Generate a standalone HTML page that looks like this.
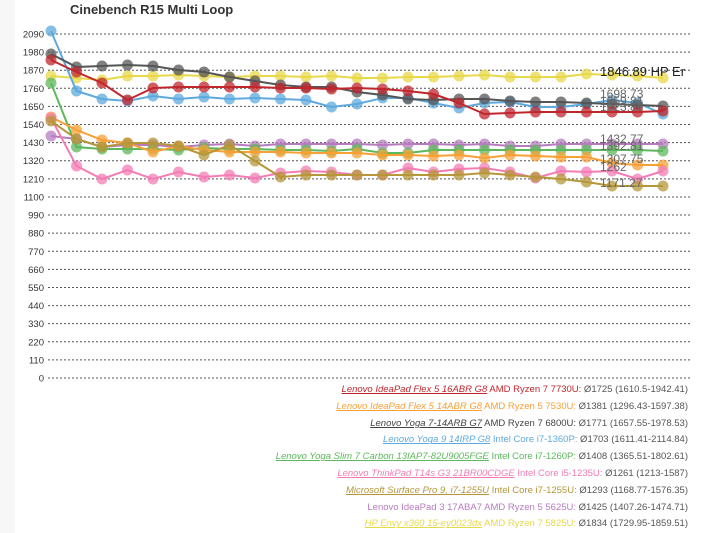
<!DOCTYPE html>
<html><head><meta charset="utf-8">
<style>
body{margin:0;background:#fff;width:704px;height:533px;overflow:hidden;font-family:"Liberation Sans",sans-serif;}
#lg{position:absolute;right:16px;top:382px;text-align:right;font-size:9.5px;line-height:16.8px;color:#555;white-space:nowrap;}
#lg u{font-style:italic}
</style></head><body>
<div style="position:absolute;left:0;top:0;width:15px;height:533px;background:#f7f7f7"></div>
<svg id="s" width="704" height="533" style="position:absolute;left:0;top:0"></svg>
<div id="lg"></div>
<script>
const s=document.getElementById('s');let h='';
h+='<text x="70" y="14" font-size="13" font-weight="bold" fill="#333">Cinebench R15 Multi Loop</text>';
for(let i=0;i<=19;i++){const v=i*110;const y=378-v*0.1646;
h+=`<line x1="48" x2="690" y1="${y}" y2="${y}" stroke="#555" stroke-dasharray="2,2" stroke-width="1"/>`;
h+=`<text x="44" y="${y+3.5}" font-size="9.5" text-anchor="end" fill="#333">${v}</text>`;}
const X=i=>51+i*25.5;
const S=[
['#e8d84a',[76,78,80,76,76,75,76,77,76,76,77,76,78,78,77,77,76,75,77,77,77,74,75,76,78]],
['#b77cc0',[136,139,147,145,145,147,145,144,146,144,144,144,144,145,144,144,145,144,146,146,144,144,144,144,144]],
['#5cb85c',[83,147,149,149,149,150,148,149,149,150,150,151,149,153,153,150,150,150,150,150,150,150,150,150,151]],
['#f7a035',[117,130,140,143,152,146,150,152,152,152,153,153,153,155,155,156,155,158,155,156,157,157,163,165,165]],
['#f37cb5',[118,166,179,170,179,172,177,175,178,173,171,172,175,175,168,172,169,168,172,178,171,172,171,179,171]],
['#b5973a',[121,139,147,143,143,146,155,145,161,177,175,175,175,175,175,175,175,173,175,177,179,182,186,186,186]],
['#5ea9dd',[31,91,99,101,96,99,97,99,98,99,100,107,104,98,98,103,108,103,102,107,107,104,100,103,114]],
['#555555',[54,67,66,65,66,70,72,77,81,85,87,87,92,95,99,100,99,99,101,102,102,103,104,105,106]],
['#c0272d',[60,72,83,100,88,87,87,87,87,88,88,89,88,89,91,94,103,114,113,112,112,112,112,112,111]]];
for(const [c,d] of S){h+=`<polyline fill="none" stroke="${c}" stroke-width="2" points="${d.map((y,i)=>X(i)+','+y).join(' ')}"/>`;
for(let i=0;i<d.length;i++)h+=`<circle cx="${X(i)}" cy="${d[i]}" r="5.5" fill="${c}" opacity="0.75"/>`;}
const L=[['1846.89 HP Er',76,'#222',13],['1698.73',98,'#666',12],['1659.81',105,'#666',12],['1623.86',111,'#666',12],['1432.77',143,'#666',12],['1392.81',150,'#666',12],['1307.75',163,'#666',12],['1262',171,'#666',12],['1171.27',187,'#666',12]];
h+='<clipPath id="c"><rect x="0" y="0" width="690" height="533"/></clipPath><g clip-path="url(#c)">';
for(const [t,y,c,f] of L)h+=`<text x="600" y="${y}" font-size="${f}" fill="${c}">${t}</text>`;
h+='</g>';
s.innerHTML=h;
const G=[['#c0272d','Lenovo IdeaPad Flex 5 16ABR G8','AMD Ryzen 7 7730U','Ø1725 (1610.5-1942.41)'],
['#f7a035','Lenovo IdeaPad Flex 5 14ABR G8','AMD Ryzen 5 7530U','Ø1381 (1296.43-1597.38)'],
['#444','Lenovo Yoga 7-14ARB G7','AMD Ryzen 7 6800U','Ø1771 (1657.55-1978.53)'],
['#5ea9dd','Lenovo Yoga 9 14IRP G8','Intel Core i7-1360P','Ø1703 (1611.41-2114.84)'],
['#5cb85c','Lenovo Yoga Slim 7 Carbon 13IAP7-82U9005FGE','Intel Core i7-1260P','Ø1408 (1365.51-1802.61)'],
['#f37cb5','Lenovo ThinkPad T14s G3 21BR00CDGE','Intel Core i5-1235U','Ø1261 (1213-1587)'],
['#b5973a','Microsoft Surface Pro 9, i7-1255U','Intel Core i7-1255U','Ø1293 (1168.77-1576.35)'],
['#b77cc0','Lenovo IdeaPad 3 17ABA7','AMD Ryzen 5 5625U','Ø1425 (1407.26-1474.71)',1],
['#e8d84a','HP Envy x360 15-ey0023dx','AMD Ryzen 7 5825U','Ø1834 (1729.95-1859.51)']];
document.getElementById('lg').innerHTML=G.map(g=>`<div>${g[4]?`<span style="color:${g[0]}">${g[1]}</span>`:`<u style="color:${g[0]}">${g[1]}</u>`} <span style="color:${g[0]}">${g[2]}:</span> ${g[3]}</div>`).join('');
</script>
</body></html>
